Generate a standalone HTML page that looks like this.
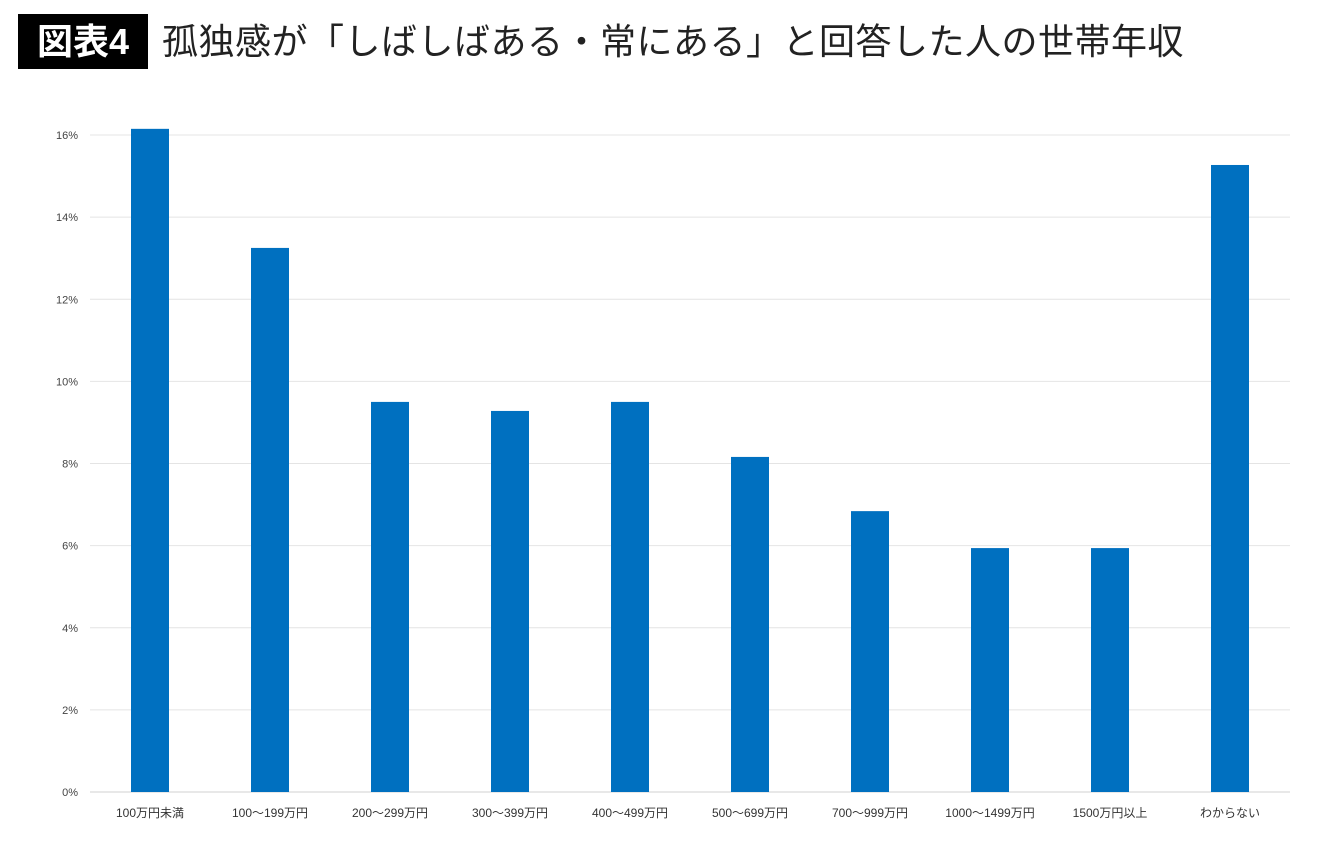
<!DOCTYPE html>
<html><head><meta charset="utf-8"><style>
body{margin:0;background:#fff;width:1340px;height:850px;overflow:hidden;font-family:"Liberation Sans","Noto Sans CJK JP",sans-serif}
#tb{position:absolute;left:18px;top:14px;width:130px;height:55px;background:#000;color:#fff;font-size:36px;font-weight:bold;line-height:55px;text-align:center}
#tt{position:absolute;left:162px;top:14px;height:55px;line-height:55px;font-size:36px;color:#222;letter-spacing:0.5px;white-space:nowrap}
svg{position:absolute;left:0;top:0}
</style></head><body>
<div id="tb">図表4</div>
<div id="tt">孤独感が「しばしばある・常にある」と回答した人の世帯年収</div>
<svg id="c" width="1340" height="850"></svg>
<script>
const categories=["100万円未満","100〜199万円","200〜299万円","300〜399万円","400〜499万円","500〜699万円","700〜999万円","1000〜1499万円","1500万円以上","わからない"];
const values=[16.15,13.25,9.5,9.28,9.5,8.16,6.84,5.94,5.94,15.27];
const ticks=[0,2,4,6,8,10,12,14,16];
const ns="http://www.w3.org/2000/svg",svg=document.getElementById('c');
const x0=90,x1=1290,y0=792,yTop=135,maxV=16;
const y=v=>y0-(y0-yTop)*v/maxV;
const band=(x1-x0)/categories.length;
const xc=i=>x0+band*(i+0.5);
function mk(t,a,txt){const e=document.createElementNS(ns,t);for(const k in a)e.setAttribute(k,a[k]);if(txt!=null)e.textContent=txt;svg.appendChild(e);return e;}
ticks.forEach(t=>{
 const l=mk('line',{x1:x0,x2:x1,y1:y(t),y2:y(t),stroke:t===0?'#d0d0d0':'#e4e4e4','stroke-width':1});
 
 
 const tx=mk('text',{x:78,y:y(t)+4,'text-anchor':'end','font-size':11,fill:'#444'},t+'%');
 
 
});
values.forEach((v,i)=>{
 const r=mk('rect',{x:xc(i)-19,y:y(v),width:38,height:y0-y(v),fill:'#0070c0'});
 
 
 const tx=mk('text',{x:xc(i),y:817,'text-anchor':'middle','font-size':12,fill:'#333'},categories[i]);
 
 
});
</script>
</body></html>
